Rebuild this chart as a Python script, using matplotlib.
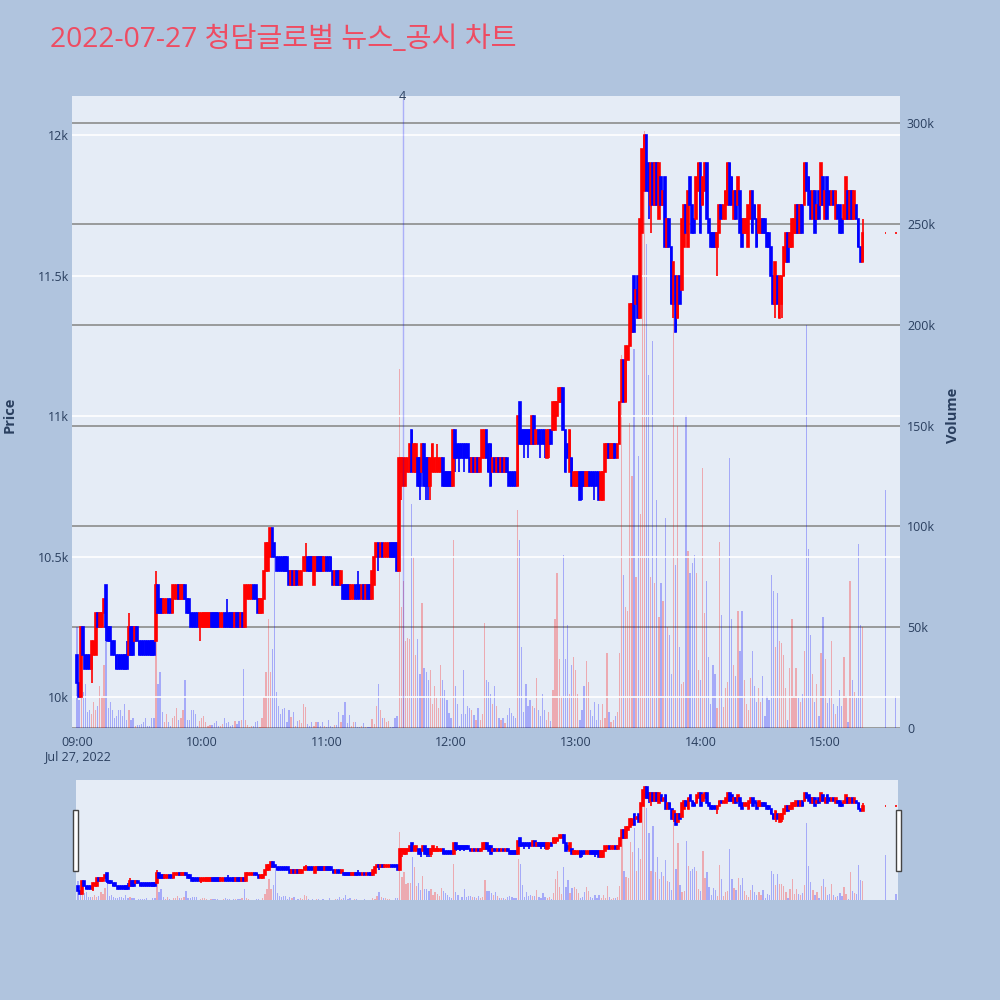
import matplotlib
matplotlib.use("Agg")
import matplotlib.pyplot as plt
import numpy as np
from matplotlib.patches import Rectangle
from matplotlib.ticker import FuncFormatter
from matplotlib.transforms import blended_transform_factory

BG_COLOR, PLOT_BG, TEXT_COLOR = "#B0C4DE", "#E5ECF6", "#2a3f5f"
UP_COLOR, DOWN_COLOR = "#FF0000", "#0000FF"
TITLE_COLOR = "#EE4C62"

plt.rcParams['font.family'] = ['Open Sans', 'Noto Sans CJK KR', 'DejaVu Sans']

title = "2022-07-27 청담글로벌 뉴스_공시 차트"
date_label = "Jul 27, 2022"
hour_labels = ["09:00", "10:00", "11:00", "12:00", "13:00", "14:00", "15:00"]

# minutes after 09:00 for the regular session, then the two closing prints
n_regular = 379
extra_minutes = [389, 394]

opens = [
    10150, 10050, 10000, 10250, 10150, 10150, 10150, 10100, 10150, 10150,
    10300, 10250, 10250, 10300, 10400, 10250, 10250, 10200, 10200, 10150,
    10150, 10150, 10150, 10150, 10150, 10150, 10250, 10250, 10200, 10250,
    10200, 10200, 10200, 10200, 10200, 10200, 10200, 10200, 10200, 10400,
    10350, 10350, 10300, 10300, 10350, 10350, 10300, 10350, 10350, 10400,
    10350, 10350, 10400, 10350, 10350, 10300, 10300, 10300, 10300, 10250,
    10250, 10250, 10250, 10250, 10250, 10300, 10300, 10300, 10300, 10250,
    10250, 10300, 10300, 10300, 10300, 10300, 10250, 10300, 10300, 10250,
    10300, 10250, 10350, 10350, 10350, 10400, 10400, 10350, 10300, 10300,
    10350, 10450, 10450, 10500, 10600, 10550, 10500, 10500, 10500, 10500,
    10500, 10500, 10450, 10400, 10450, 10400, 10450, 10400, 10400, 10450,
    10450, 10500, 10500, 10500, 10400, 10450, 10500, 10500, 10500, 10450,
    10500, 10500, 10500, 10450, 10400, 10450, 10450, 10400, 10400, 10400,
    10400, 10400, 10350, 10350, 10400, 10400, 10400, 10350, 10400, 10350,
    10400, 10400, 10350, 10400, 10500, 10550, 10500, 10550, 10500, 10500,
    10500, 10550, 10550, 10550, 10550, 10450, 10800, 10750, 10750, 10800,
    10800, 10950, 10800, 10800, 10850, 10850, 10800, 10900, 10850, 10850,
    10750, 10800, 10800, 10800, 10800, 10800, 10850, 10800, 10800, 10800,
    10800, 10750, 10950, 10900, 10900, 10900, 10900, 10900, 10900, 10850,
    10800, 10850, 10800, 10850, 10800, 10850, 10850, 10950, 10900, 10900,
    10800, 10850, 10800, 10850, 10800, 10850, 10800, 10850, 10800, 10800,
    10800, 10800, 10750, 11050, 10950, 10950, 10950, 10950, 10950, 10900,
    11000, 10900, 10950, 10950, 10950, 10950, 10850, 10900, 10950, 10950,
    10950, 11000, 11050, 11050, 11100, 10950, 10900, 10800, 10850, 10750,
    10750, 10750, 10800, 10800, 10800, 10750, 10750, 10800, 10800, 10800,
    10800, 10800, 10700, 10700, 10800, 10850, 10900, 10850, 10850, 10900,
    10850, 10900, 11050, 11200, 11050, 11200, 11250, 11300, 11500, 11400,
    11500, 11350, 11650, 11800, 12000, 11900, 11750, 11900, 11750, 11900,
    11700, 11850, 11750, 11850, 11600, 11700, 11600, 11400, 11500, 11350,
    11500, 11450, 11600, 11750, 11600, 11850, 11750, 11700, 11700, 11800,
    11900, 11750, 11800, 11900, 11700, 11650, 11650, 11650, 11600, 11650,
    11750, 11700, 11700, 11750, 11900, 11850, 11700, 11800, 11750, 11800,
    11700, 11650, 11650, 11600, 11700, 11800, 11750, 11700, 11650, 11650,
    11700, 11700, 11650, 11650, 11600, 11500, 11400, 11500, 11350, 11400,
    11500, 11550, 11650, 11600, 11600, 11650, 11650, 11750, 11650, 11750,
    11750, 11900, 11850, 11800, 11700, 11800, 11700, 11800, 11750, 11850,
    11700, 11850, 11800, 11750, 11800, 11700, 11750, 11750, 11700, 11700,
    11700, 11800, 11700, 11800, 11700, 11750, 11700, 11600, 11550,
    11650, 11650,
]

closes = [
    10050, 10000, 10250, 10150, 10100, 10100, 10100, 10200, 10200, 10300,
    10250, 10300, 10300, 10350, 10250, 10200, 10200, 10150, 10150, 10100,
    10100, 10100, 10100, 10100, 10100, 10250, 10150, 10150, 10250, 10200,
    10150, 10150, 10150, 10150, 10150, 10150, 10150, 10150, 10400, 10300,
    10300, 10300, 10350, 10350, 10300, 10300, 10400, 10400, 10400, 10350,
    10400, 10400, 10350, 10300, 10300, 10250, 10250, 10250, 10250, 10300,
    10300, 10300, 10300, 10300, 10300, 10250, 10250, 10250, 10250, 10300,
    10300, 10250, 10250, 10250, 10250, 10250, 10300, 10250, 10250, 10300,
    10250, 10400, 10400, 10400, 10400, 10350, 10350, 10300, 10350, 10350,
    10450, 10550, 10550, 10600, 10500, 10500, 10450, 10450, 10450, 10450,
    10450, 10450, 10400, 10450, 10400, 10450, 10400, 10450, 10450, 10500,
    10500, 10450, 10450, 10450, 10500, 10500, 10450, 10450, 10450, 10500,
    10450, 10450, 10450, 10400, 10450, 10400, 10400, 10450, 10350, 10350,
    10350, 10350, 10400, 10400, 10350, 10350, 10350, 10400, 10350, 10400,
    10350, 10350, 10450, 10500, 10550, 10500, 10550, 10500, 10550, 10550,
    10550, 10500, 10500, 10500, 10450, 10850, 10850, 10850, 10850, 10850,
    10900, 10800, 10900, 10900, 10750, 10750, 10900, 10750, 10750, 10750,
    10850, 10900, 10850, 10850, 10850, 10850, 10750, 10750, 10750, 10750,
    10750, 10950, 10850, 10850, 10850, 10850, 10850, 10850, 10850, 10800,
    10850, 10800, 10850, 10800, 10850, 10950, 10950, 10850, 10800, 10750,
    10850, 10800, 10850, 10800, 10850, 10800, 10850, 10800, 10750, 10750,
    10750, 10750, 11000, 10900, 10900, 10900, 10900, 10900, 10900, 11000,
    10900, 10950, 10900, 10900, 10900, 10900, 10950, 10950, 10900, 11050,
    11050, 11050, 11100, 11100, 10950, 10800, 10850, 10950, 10750, 10800,
    10800, 10800, 10700, 10750, 10750, 10800, 10800, 10750, 10750, 10750,
    10750, 10700, 10800, 10800, 10900, 10900, 10850, 10900, 10900, 10850,
    10900, 11050, 11200, 11050, 11250, 11250, 11400, 11400, 11300, 11450,
    11350, 11700, 11950, 12000, 11800, 11800, 11900, 11750, 11900, 11750,
    11900, 11750, 11800, 11600, 11700, 11600, 11400, 11550, 11300, 11500,
    11400, 11700, 11750, 11650, 11800, 11750, 11650, 11650, 11850, 11900,
    11650, 11850, 11900, 11700, 11650, 11600, 11600, 11600, 11650, 11750,
    11700, 11750, 11800, 11900, 11750, 11750, 11800, 11700, 11850, 11650,
    11600, 11700, 11700, 11750, 11800, 11650, 11700, 11600, 11750, 11700,
    11650, 11650, 11600, 11600, 11500, 11400, 11550, 11400, 11500, 11500,
    11600, 11650, 11550, 11650, 11700, 11700, 11750, 11650, 11750, 11650,
    11900, 11800, 11750, 11700, 11800, 11650, 11750, 11700, 11900, 11750,
    11800, 11700, 11750, 11800, 11750, 11800, 11700, 11650, 11650, 11750,
    11850, 11700, 11800, 11700, 11800, 11700, 11600, 11550, 11650,
    11650, 11650,
]

# wicks that reach past the candle body: minute -> (low, high)
wicks = {
    7: (10050, 10200), 14: (10200, 10400), 24: (10100, 10200), 25: (10150, 10300),
    38: (10200, 10450), 59: (10200, 10300), 72: (10250, 10350), 110: (10450, 10550),
    135: (10350, 10450), 145: (10450, 10550), 156: (10700, 10850), 165: (10700, 10850),
    168: (10700, 10850), 169: (10700, 10850), 170: (10700, 10850), 173: (10800, 10900),
    182: (10800, 10950), 184: (10800, 10900), 186: (10800, 10900), 215: (10850, 10950),
    217: (10850, 10950), 223: (10850, 10950), 225: (10850, 10950), 227: (10850, 10950),
    243: (10700, 10800), 249: (10700, 10800), 252: (10700, 10800), 264: (11050, 11250),
    275: (11700, 11900), 276: (11650, 11900), 287: (11350, 11550), 308: (11500, 11650),
    336: (11350, 11550), 339: (11350, 11500), 378: (11550, 11700),
}

# traded volume per minute, thousands of shares
volume_k = [
    50, 14, 15, 18, 22, 8, 9, 7, 13, 9,
    11, 21, 16, 31, 55, 10, 13, 9, 5, 6,
    9, 9, 6, 12, 4, 9, 4, 5, 1, 1.5,
    1.5, 2, 3, 5, 1, 1, 5, 5, 44, 22,
    28, 8, 3, 7, 3, 1, 5, 6, 10, 4,
    5, 9, 24, 4, 4, 9, 9, 7, 1, 3.5,
    5, 6, 3, 1, 1.5, 1.5, 2.5, 3.5, 1, 1,
    2, 5, 2.5, 3, 1, 1.5, 3.5, 2, 3.5, 4,
    29.5, 4, 1.5, 0.5, 1, 1, 3, 3.5, 0.5, 5,
    15.5, 28, 54, 28, 39, 85, 18, 11, 7, 9.4,
    10, 3, 9, 5.6, 8, 1, 3.6, 4, 2.6, 12,
    10.5, 2, 1, 3, 1, 3, 2.8, 1.2, 2.8, 1.2,
    0.4, 4, 1, 0.4, 1.5, 1.5, 8, 3, 6.4, 13,
    2.6, 6.4, 1, 2.8, 3, 0.4, 0.4, 1, 2.3, 0.4,
    0.4, 0.4, 4.5, 2, 11, 22, 9, 5, 5, 3,
    3.5, 0.4, 0.4, 5, 6, 178, 60, 73, 43, 44.5,
    44, 111, 85, 36, 44, 27, 62, 30, 28, 24,
    29, 12, 21, 15, 10, 31, 24, 19, 14, 7.4,
    5, 93, 21, 12, 1, 7, 29, 7, 11, 10,
    9, 6.6, 4, 10, 4, 7, 52, 24, 23, 17,
    12, 21, 11, 5, 4, 5, 2.5, 6.6, 10, 7.4,
    6, 5, 108, 93, 40, 8, 22, 11, 14, 11,
    10, 25, 9, 6, 17, 9, 4, 8, 3.3, 19,
    54, 77, 34, 16, 86, 34, 51, 17, 31, 35,
    29, 17, 4, 9, 21, 33, 23, 9, 6, 13,
    4, 12, 4, 12, 5, 37, 8, 3, 4, 6,
    8, 37, 185, 76, 60, 58, 151, 125, 188, 75,
    135, 106, 267, 296, 240, 175, 75, 192, 72, 113,
    55, 72, 63, 104, 50, 46, 27, 224, 81, 150,
    40, 22, 23, 155, 88, 77, 82, 86, 77, 29,
    24, 129, 57, 73, 35, 12, 31, 27, 10, 92,
    56, 10.5, 20, 23, 134, 54, 31, 26, 58, 38,
    58, 24, 12, 9, 25, 38, 21, 13, 20, 13,
    26, 6, 16, 14, 76, 68, 40, 67, 43, 42,
    36, 20, 4, 30, 54, 16, 30, 15, 13, 17,
    38, 200, 89, 46, 27, 13, 22, 6, 37, 55,
    34, 12.5, 15, 43, 12, 7, 11, 19, 11, 35,
    16, 3, 73, 24, 18, 15, 91, 51, 50,
    118, 16,
]

news_minute = 156.7   # 11:36:40 disclosure
news_label = "4"

minutes = np.array(list(range(n_regular)) + extra_minutes, dtype=float)
o = np.array(opens, dtype=float)
c = np.array(closes, dtype=float)
vol = np.array(volume_k) * 1000
lows = np.minimum(o, c)
highs = np.maximum(o, c)
for m, (lo, hi) in wicks.items():
    lows[m], highs[m] = lo, hi
candle_colors = [UP_COLOR if cc >= oo else DOWN_COLOR for oo, cc in zip(o, c)]
volume_colors = [UP_COLOR if cc > oo else DOWN_COLOR for oo, cc in zip(o, c)]

XLIM = (-2.4, 396)
PRICE_LIM = (9890, 12139)
VOL_LIM = (0, 313400)


def draw_volume(ax):
    ax.bar(minutes, vol, width=0.6, color=volume_colors, alpha=0.28, linewidth=0,
           antialiased=False, zorder=2)


def draw_candles(ax):
    ax.vlines(minutes, lows, highs, colors=candle_colors, linewidth=1.2, zorder=3)
    ax.bar(minutes, c - o, bottom=o, width=0.8, color=candle_colors,
           edgecolor=candle_colors, linewidth=1.2, zorder=4)


fig = plt.figure(figsize=(10, 10), dpi=100, facecolor=BG_COLOR)

# volume sits underneath, price candles on a transparent axes above it
ax_vol = fig.add_axes([0.072, 0.272, 0.828, 0.632])
ax_price = fig.add_axes([0.072, 0.272, 0.828, 0.632], sharex=ax_vol)
ax_price.patch.set_visible(False)
ax_vol.set_facecolor(PLOT_BG)

draw_volume(ax_vol)
draw_candles(ax_price)

ax_vol.set_ylim(*VOL_LIM)
ax_vol.set_yticks(np.arange(0, 300001, 50000))
ax_vol.yaxis.tick_right()
ax_vol.yaxis.set_major_formatter(FuncFormatter(lambda v, _: "0" if v == 0 else f"{v / 1000:g}k"))
ax_vol.grid(axis='y', color="#8c8c8c", linewidth=1.2)
ax_vol.set_axisbelow(True)

ax_price.set_xlim(*XLIM)
ax_price.set_ylim(*PRICE_LIM)
ax_price.set_yticks([10000, 10500, 11000, 11500, 12000])
ax_price.yaxis.set_major_formatter(FuncFormatter(lambda v, _: f"{v / 1000:g}k"))
ax_price.grid(axis='y', color="white", linewidth=1.2, zorder=0)
ax_price.set_axisbelow(True)
ax_price.set_xticks(np.arange(0, 361, 60))
ax_price.set_xticklabels(hour_labels)

for ax in (ax_vol, ax_price):
    for s in ax.spines.values():
        s.set_visible(False)
    ax.tick_params(length=0, colors=TEXT_COLOR, labelsize=9)
ax_vol.tick_params(axis='x', labelbottom=False)
ax_vol.tick_params(axis='y', pad=5)
ax_price.tick_params(axis='y', pad=2)
ax_price.tick_params(axis='x', pad=6)

# disclosure marker
ax_price.axvline(news_minute, ymin=0, ymax=0.994, color=DOWN_COLOR, alpha=0.25,
                 linewidth=1, zorder=6)
ax_price.text(news_minute, 1.0, news_label, transform=blended_transform_factory(ax_price.transData, ax_price.transAxes),
              ha='center', va='center', fontsize=9, color=TEXT_COLOR)

fig.text(0.077, 0.243, date_label, ha='center', va='center', fontsize=9, color=TEXT_COLOR)
fig.text(0.010, 0.585, "Price", rotation=90, ha='center', va='center',
         fontsize=10.5, fontweight='bold', color=TEXT_COLOR)
fig.text(0.953, 0.585, "Volume", rotation=90, ha='center', va='center',
         fontsize=10.5, fontweight='bold', color=TEXT_COLOR)
fig.text(0.050, 0.960, title, ha='left', va='center', fontsize=20.3, color=TITLE_COLOR)

# range slider
rs_vol = fig.add_axes([0.076, 0.100, 0.822, 0.120])
rs_price = fig.add_axes([0.076, 0.100, 0.822, 0.120], sharex=rs_vol)
rs_vol.set_facecolor(PLOT_BG)
rs_price.patch.set_visible(False)
draw_volume(rs_vol)
draw_candles(rs_price)
rs_vol.set_ylim(*VOL_LIM)
rs_price.set_ylim(*PRICE_LIM)
rs_price.set_xlim(-1, 395)
for ax in (rs_vol, rs_price):
    ax.set_xticks([])
    ax.set_yticks([])
    for s in ax.spines.values():
        s.set_visible(False)

for hx in (0.073, 0.896):
    fig.add_artist(Rectangle((hx, 0.129), 0.0045, 0.061, transform=fig.transFigure,
                             facecolor="white", edgecolor="#444444", linewidth=1))

fig.savefig("out.png", dpi=100, facecolor=BG_COLOR)
